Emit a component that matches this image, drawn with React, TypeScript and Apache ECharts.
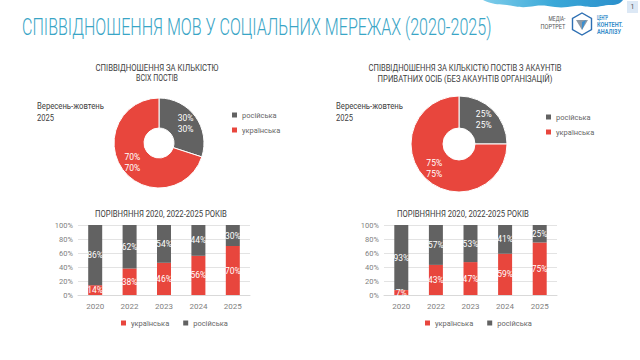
import React, { useEffect, useRef } from "react";
import * as echarts from "echarts";

const years = ["2020", "2022", "2023", "2024", "2025"];
const allUa = [14, 38, 46, 56, 70];
const allRu = [86, 62, 54, 44, 30];
const privUa = [7, 43, 47, 59, 75];
const privRu = [93, 57, 53, 41, 25];
const pieAll = [
  { name: "російська", value: 30 },
  { name: "українська", value: 70 },
];
const piePriv = [
  { name: "російська", value: 25 },
  { name: "українська", value: 75 },
];
const yTicks = [0, 20, 40, 60, 80, 100];

const RED = "#e8463d";
const GRAY = "#626262";
const FONT = "Roboto, sans-serif";

echarts.graphic.registerShape(
  "wave",
  echarts.graphic.extendPath(
    "M0,0 L140,0 C138,3 134,5 128,5 C120,5 118,7 110,7 C102,7 100,5 92,6 C84,7 80,8 72,7 C64,6 60,5 52,6 C44,7 40,8 30,6 C20,4 14,5 8,3 C4,2 2,1 0,0 Z",
    {}
  )
);

function measure(text: string, fontSize: number, fontWeight: string = "normal") {
  const t = new echarts.graphic.Text({
    style: { text, fontSize, fontFamily: FONT, fontWeight },
  });
  return t.getBoundingRect().width || 1;
}

function fitText(
  x: number,
  y: number,
  text: string,
  width: number,
  extra: any = {}
) {
  const fontSize = extra.fontSize || 9;
  const w = measure(text, fontSize, extra.fontWeight || "normal");
  return {
    type: "text",
    x,
    y,
    scaleX: width / w,
    style: {
      text,
      x: 0,
      y: 0,
      fontFamily: FONT,
      fontSize: 9,
      fill: "#404040",
      ...extra,
    },
  };
}

function dup(p: any) {
  return p.value + "%\n" + p.value + "%";
}

function barSeries(gi: number, ua: number[], ru: number[]) {
  const label = {
    show: true,
    position: "inside",
    color: "#fff",
    fontSize: 8.5,
    fontFamily: FONT,
    formatter: "{c}%",
  };
  return [
    {
      type: "bar",
      name: "українська",
      stack: "s" + gi,
      xAxisIndex: gi,
      yAxisIndex: gi,
      data: ua,
      barWidth: 14,
      itemStyle: { color: RED },
      label,
    },
    {
      type: "bar",
      name: "російська",
      stack: "s" + gi,
      xAxisIndex: gi,
      yAxisIndex: gi,
      data: ru,
      barWidth: 14,
      itemStyle: { color: GRAY },
      label,
    },
  ];
}

function pieSeries(center: number[], radius: number[], data: any[]) {
  return {
    type: "pie",
    center,
    radius,
    startAngle: 90,
    data: data.map((d) => ({
      ...d,
      itemStyle: { color: d.name === "російська" ? GRAY : RED },
    })),
    itemStyle: { borderColor: "#fff", borderWidth: 1 },
    label: {
      show: true,
      position: "inside",
      color: "#fff",
      fontSize: 8.5,
      lineHeight: 10.5,
      fontFamily: FONT,
      formatter: dup,
    },
    labelLine: { show: false },
    emphasis: { disabled: true },
  };
}

export default function App() {
  const ref = useRef<HTMLDivElement>(null);
  useEffect(() => {
    const chart = echarts.init(ref.current!, null, { renderer: "svg" });
    const axisLabel = { fontSize: 7.5, color: "#7f7f7f", fontFamily: FONT };
    const legendCommon = {
      itemWidth: 5,
      itemHeight: 5,
      icon: "rect",
      textStyle: { fontSize: 7.5, color: "#666", fontFamily: FONT },
      selectedMode: false,
    };
    chart.setOption({
      animation: false,
      backgroundColor: "#fff",
      grid: [
        { left: 78, right: 390, top: 225, bottom: 65 },
        { left: 384, right: 83, top: 225, bottom: 65 },
      ],
      xAxis: [0, 1].map((i) => ({
        type: "category",
        gridIndex: i,
        data: years,
        axisLine: { lineStyle: { color: "#d9d9d9" } },
        axisTick: { show: false },
        axisLabel: { ...axisLabel, fontSize: 8, margin: 7 },
      })),
      yAxis: [0, 1].map((i) => ({
        type: "value",
        gridIndex: i,
        min: yTicks[0],
        max: yTicks[yTicks.length - 1],
        interval: yTicks[1] - yTicks[0],
        axisLine: { show: false },
        axisTick: { show: false },
        splitLine: { lineStyle: { color: "#e3e3e3" } },
        axisLabel: { ...axisLabel, formatter: "{value}%", margin: 5 },
      })),
      legend: [
        {
          ...legendCommon,
          data: ["російська", "українська"],
          orient: "vertical",
          left: 227,
          top: 106,
          itemGap: 7,
        },
        {
          ...legendCommon,
          data: ["російська", "українська"],
          orient: "vertical",
          left: 541,
          top: 108,
          itemGap: 7,
        },
        {
          ...legendCommon,
          data: ["українська", "російська"],
          left: 116,
          top: 314,
          itemGap: 14,
        },
        {
          ...legendCommon,
          data: ["українська", "російська"],
          left: 420,
          top: 314,
          itemGap: 14,
        },
      ],
      series: [
        pieSeries([159, 143], [15, 45], pieAll),
        pieSeries([459, 144], [16, 48], piePriv),
        ...barSeries(0, allUa, allRu),
        ...barSeries(1, privUa, privRu),
      ],
      graphic: [
        fitText(22, 15, "СПІВВІДНОШЕННЯ МОВ У СОЦІАЛЬНИХ МЕРЕЖАХ (2020-2025)", 470, {
          fontSize: 24,
          fontWeight: "300",
          fill: "#39a5c6",
        }),
        fitText(157, 63, "СПІВВІДНОШЕННЯ ЗА КІЛЬКІСТЮ", 123, { align: "center" }),
        fitText(157, 74, "ВСІХ ПОСТІВ", 42, { align: "center" }),
        fitText(465, 63, "СПІВВІДНОШЕННЯ ЗА КІЛЬКІСТЮ ПОСТІВ З АКАУНТІВ", 193, { align: "center" }),
        fitText(465, 74, "ПРИВАТНИХ ОСІБ (БЕЗ АКАУНТІВ ОРГАНІЗАЦІЙ)", 175, { align: "center" }),
        fitText(37, 101, "Вересень-жовтень", 67, { fontSize: 9.5 }),
        fitText(37, 113, "2025", 17, { fontSize: 9.5 }),
        fitText(336, 101, "Вересень-жовтень", 67, { fontSize: 9.5 }),
        fitText(336, 113, "2025", 17, { fontSize: 9.5 }),
        fitText(161, 209, "ПОРІВНЯННЯ 2020, 2022-2025 РОКІВ", 132, { align: "center" }),
        fitText(463, 209, "ПОРІВНЯННЯ 2020, 2022-2025 РОКІВ", 132, { align: "center" }),
        {
          type: "wave",
          x: 483,
          y: 0,
          style: {
            fill: new echarts.graphic.LinearGradient(0, 0, 1, 0, [
              { offset: 0, color: "#7fcdea" },
              { offset: 0.5, color: "#3aa8d8" },
              { offset: 1, color: "#2b8fcb" },
            ]),
          },
        },
        { type: "rect", shape: { x: 627, y: 1, width: 11, height: 12 }, style: { fill: "#dce8f5" } },
        {
          type: "text",
          x: 632.5,
          y: 3,
          style: { text: "1", fontSize: 7, fill: "#555", align: "center", fontFamily: FONT },
        },
        fitText(557, 15, "МЕДІА-", 17, { fontSize: 7, fill: "#555", align: "center" }),
        fitText(553, 23.5, "ПОРТРЕТ", 25, { fontSize: 7, fill: "#555", align: "center" }),
        {
          type: "polygon",
          shape: {
            points: [
              [582, 13],
              [591.5, 18.5],
              [591.5, 29.5],
              [582, 35],
              [572.5, 29.5],
              [572.5, 18.5],
            ],
          },
          style: { fill: "none", stroke: "#2d6fb3", lineWidth: 1.4 },
        },
        {
          type: "polygon",
          shape: { points: [[576, 20], [588, 20], [582, 30]] },
          style: { fill: "#8f9aa6" },
        },
        {
          type: "polygon",
          shape: { points: [[582, 22], [586, 20], [582, 30]] },
          style: { fill: "#3a8fd0" },
        },
        fitText(597, 13.5, "ЦЕНТР", 11, { fontSize: 6.5, fill: "#3a8fcb", fontWeight: "bold" }),
        fitText(597, 20.5, "КОНТЕНТ.", 26, { fontSize: 6.5, fill: "#3a8fcb", fontWeight: "bold" }),
        fitText(597, 27.5, "АНАЛІЗУ", 24, { fontSize: 6.5, fill: "#3a8fcb", fontWeight: "bold" }),
      ],
    });
    return () => chart.dispose();
  }, []);
  return (
    <div
      ref={ref}
      style={{ position: "fixed", left: 0, top: 0, width: 640, height: 360 }}
    />
  );
}
